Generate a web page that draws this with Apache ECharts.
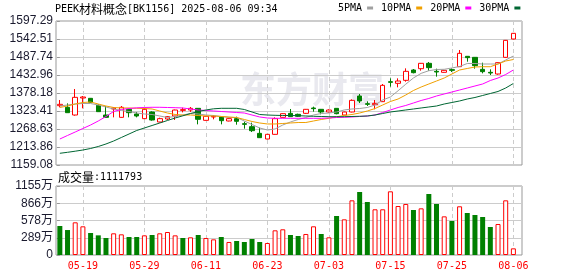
<!DOCTYPE html>
<html><head><meta charset="utf-8">
<script src="https://cdn.jsdelivr.net/npm/echarts@6/dist/echarts.min.js"></script>
<style>html,body{margin:0;padding:0;background:#fff}#c{width:578px;height:276px}</style>
</head><body><div id="c"></div>
<script>
// ---------- data ----------
const dates = ['05-14','05-15','05-16','05-19','05-20','05-21','05-22','05-23','05-26','05-27',
  '05-28','05-29','05-30','06-03','06-04','06-05','06-06','06-09','06-10','06-11',
  '06-12','06-13','06-16','06-17','06-18','06-19','06-20','06-23','06-24','06-25',
  '06-26','06-27','06-30','07-01','07-02','07-03','07-04','07-07','07-08','07-09',
  '07-10','07-11','07-14','07-15','07-16','07-17','07-18','07-21','07-22','07-23',
  '07-24','07-25','07-28','07-29','07-30','07-31','08-01','08-04','08-05','08-06'];
const opens = [1339.6,1334.6,1311.2,1363.0,1362.0,1340.6,1311.2,1329.5,1304.1,1328.5,
  1314.3,1300.1,1320.4,1290.0,1299.1,1308.2,1325.4,1326.4,1331.5,1295.0,
  1305.1,1305.1,1293.0,1300.1,1284.9,1275.7,1255.4,1238.2,1252.4,1304.1,
  1316.3,1313.3,1316.3,1332.5,1328.5,1320.4,1331.5,1311.2,1320.4,1369.0,
  1345.7,1342.7,1351.8,1412.7,1407.6,1416.7,1448.2,1452.2,1468.5,1444.1,
  1441.1,1449.2,1458.3,1489.8,1486.7,1450.2,1441.1,1436.0,1486.7,1542.5];
const closes = [1343.7,1318.3,1365.0,1366.0,1349.8,1321.4,1304.1,1332.5,1334.6,1318.3,
  1308.2,1328.5,1296.0,1300.1,1306.2,1326.4,1327.5,1331.5,1298.1,1307.2,
  1307.2,1294.0,1300.1,1292.0,1282.8,1263.5,1242.2,1252.4,1300.1,1315.3,
  1306.2,1307.2,1328.5,1330.5,1320.4,1326.4,1315.3,1320.4,1355.8,1353.8,
  1343.7,1346.7,1401.5,1410.6,1414.7,1444.1,1440.0,1468.5,1455.3,1442.1,
  1447.2,1447.2,1498.9,1485.7,1461.4,1443.1,1439.0,1470.5,1538.4,1559.8];
const lows = [1334.6,1318.3,1309.2,1331.5,1348.8,1320.4,1304.1,1304.1,1303.1,1304.1,
  1304.1,1299.1,1294.0,1289.0,1296.0,1296.0,1319.3,1320.4,1282.8,1294.0,
  1298.1,1282.8,1292.0,1281.8,1269.6,1259.5,1241.2,1237.2,1251.4,1303.1,
  1305.1,1305.1,1314.3,1321.4,1313.3,1318.3,1313.3,1310.2,1319.3,1347.7,
  1338.6,1328.5,1350.8,1397.5,1395.4,1412.7,1438.0,1446.1,1446.1,1427.9,
  1440.0,1442.1,1457.3,1473.5,1452.2,1438.0,1433.0,1434.0,1485.7,1541.5];
const highs = [1356.9,1346.7,1390.3,1369.0,1363.0,1343.7,1338.6,1334.6,1338.6,1330.5,
  1320.4,1332.5,1322.4,1303.1,1308.2,1327.5,1333.5,1335.6,1332.5,1308.2,
  1311.2,1306.2,1301.1,1306.2,1291.0,1287.9,1272.7,1253.4,1304.1,1316.3,
  1329.5,1315.3,1329.5,1336.6,1329.5,1328.5,1332.5,1321.4,1358.9,1375.1,
  1352.8,1356.9,1405.6,1422.8,1422.8,1453.2,1451.2,1469.5,1472.5,1452.2,
  1448.2,1453.2,1509.0,1490.8,1487.7,1470.5,1450.2,1471.5,1539.5,1560.8];
// volume in 万
const volumes = [485,418,547,480,368,329,285,363,346,301,
  301,329,335,363,385,329,285,296,335,285,
  262,301,218,234,218,268,218,201,413,430,
  335,318,352,480,352,296,653,597,915,1055,
  887,765,765,1066,820,854,753,781,1021,854,
  647,569,815,703,670,636,469,519,915,111.18];
// 1 = red hollow bar, 0 = green filled bar
const volUp = [0,0,1,1,0,0,0,1,1,0,
  0,1,0,1,1,1,0,1,0,1,
  1,0,1,0,0,0,0,1,1,1,
  0,0,1,1,0,1,0,1,1,0,
  0,1,1,1,1,1,0,1,0,0,
  1,0,1,0,0,0,0,1,1,1];
const ma5 = [1338.6,1341.7,1344.7,1346.2,1346.2,1341.7,1335.6,1329.5,1324.9,1321.9,
  1317.3,1314.3,1312.8,1308.2,1303.6,1306.7,1311.2,1315.8,1314.3,1311.2,
  1309.7,1306.7,1303.6,1303.6,1293.0,1282.3,1271.7,1265.6,1268.6,1280.8,
  1290.0,1297.5,1303.6,1311.2,1315.8,1317.3,1320.4,1326.5,1329.5,1331.0,
  1334.1,1341.7,1356.9,1366.0,1385.0,1405.0,1424.0,1438.0,1446.0,1449.7,
  1450.3,1454.3,1458.8,1468.0,1468.0,1466.4,1466.4,1466.4,1478.6,1490.8];
const ma10 = [1334.1,1338.6,1344.7,1349.3,1350.8,1344.7,1338.6,1334.1,1332.6,1332.6,
  1331.6,1331.0,1329.5,1323.4,1317.3,1312.8,1311.2,1311.2,1309.7,1308.2,
  1308.2,1306.7,1305.2,1303.6,1297.5,1291.5,1286.9,1283.9,1283.9,1285.4,
  1286.9,1288.4,1288.4,1293.0,1297.5,1301.2,1306.1,1309.7,1312.8,1317.3,
  1323.4,1331.0,1341.7,1352.3,1359.9,1372.1,1385.8,1396.4,1405.6,1414.7,
  1423.8,1436.0,1448.2,1452.8,1457.3,1458.2,1458.2,1466.4,1475.6,1480.1];
const ma20 = [1238.2,1248.9,1259.5,1270.2,1280.8,1293.0,1306.7,1321.9,1328.0,1331.0,
  1333.1,1334.1,1334.7,1334.7,1334.1,1333.5,1332.6,1329.5,1326.5,1324.9,
  1323.4,1321.9,1320.4,1318.8,1317.3,1311.2,1305.2,1302.1,1301.2,1301.2,
  1301.2,1301.2,1301.2,1301.2,1301.2,1302.1,1303.6,1304.2,1305.2,1306.7,
  1308.2,1311.2,1318.8,1326.5,1334.1,1340.2,1347.8,1355.4,1361.5,1369.1,
  1375.2,1381.2,1387.3,1393.4,1399.5,1405.6,1416.2,1423.8,1434.5,1448.2];
const ma30 = [1194.7,1197.7,1201.1,1204.7,1209.3,1215.4,1223.0,1232.1,1242.8,1253.4,
  1264.1,1271.7,1279.3,1286.9,1294.5,1302.1,1308.8,1315.8,1321.9,1326.5,
  1330.1,1331.6,1331.6,1331.6,1328.0,1320.4,1312.8,1311.2,1310.3,1309.7,
  1309.7,1309.1,1308.2,1307.3,1306.7,1306.1,1306.1,1306.1,1306.7,1307.3,
  1308.2,1311.2,1315.8,1320.4,1323.4,1326.5,1329.5,1332.6,1335.6,1338.6,
  1344.7,1349.3,1353.9,1359.9,1364.5,1370.6,1376.7,1382.8,1393.4,1407.1];
const xTickLabels = ['05-19','05-29','06-11','06-23','07-03','07-15','07-25','08-06'];
const yTickLabels = ['1159.08','1213.86','1268.63','1323.41','1378.18','1432.96','1487.74','1542.51','1597.29'];
const volTickLabels = ['0','289万','578万','866万','1155万'];
const titleText = 'PEEK材料概念[BK1156] 2025-08-06 09:34';
const volTitle = '成交量:1111793';
const maNames = ['5PMA','10PMA','20PMA','30PMA'];
const maColors = ['#a0a0a0','#f0a000','#ff00ff','#006633'];

// ---------- chart ----------
const Y_MIN = parseFloat(yTickLabels[0]);
const Y_MAX = parseFloat(yTickLabels[yTickLabels.length-1]);
const Y_INT = (Y_MAX - Y_MIN) / (yTickLabels.length - 1);
const V_MAX = parseFloat(volTickLabels[volTickLabels.length-1]);
const V_INT = V_MAX / (volTickLabels.length - 1);
const X_MIN = -0.5, X_MAX = 60.12;
const tickIdx = xTickLabels.map(l => dates.indexOf(l));
const mono = 'DejaVu Sans Mono';
const cjk = 'Noto Sans CJK SC';
const axisFont = 'Liberation Sans';

const candleData = dates.map((d, i) => [i, opens[i], closes[i], lows[i], highs[i]]);
const toXY = arr => arr.map((v, i) => [i, v]);
const volData = volumes.map((v, i) => ({
  value: [i, v],
  itemStyle: volUp[i]
    ? {color: '#ffffff', borderColor: '#ff0000', borderWidth: 1}
    : {color: '#008000', borderColor: '#008000', borderWidth: 0}
}));

function makeTitle(txt) {
  return txt.replace(/([\u4e00-\u9fff]+)/g, '{c|$1}');
}

const xCommon = {
  type: 'value', min: X_MIN, max: X_MAX,
  axisLine: {show: false},
  axisTick: {show: false, customValues: tickIdx},
  splitLine: {show: true, lineStyle: {color: '#cccccc', type: [4, 3], width: 1}}
};

const option = {
  animation: false,
  backgroundColor: '#ffffff',
  title: [
    {text: makeTitle(titleText), left: 55, top: 3, padding: 0,
     textStyle: {fontSize: 10, fontFamily: mono, fontWeight: 'normal', color: '#000',
       rich: {c: {fontSize: 12, fontFamily: cjk, color: '#000'}}}},
    {text: makeTitle(volTitle), left: 58, top: 171, padding: 0,
     textStyle: {fontSize: 10, fontFamily: mono, fontWeight: 'normal', color: '#000',
       rich: {c: {fontSize: 12, fontFamily: cjk, color: '#000'}}}}
  ],
  legend: {
    data: maNames, left: 338, top: 3, padding: 0,
    itemWidth: 6, itemHeight: 3, itemGap: 8, align: 'right', icon: 'rect',
    textStyle: {fontSize: 10, fontFamily: mono, color: '#000'},
    selectedMode: false
  },
  graphic: [{
    type: 'text', left: 240, top: 71, z: -10, silent: true,
    style: {text: '东方财富', fontSize: 36, fontWeight: 'bold', fontFamily: cjk, fill: '#e9e9ef'}
  }],
  grid: [
    {left: 56, top: 21, width: 466, height: 144, show: true, borderColor: '#999', borderWidth: 1},
    {left: 56, top: 186, width: 466, height: 69, show: true, borderColor: '#999', borderWidth: 1}
  ],
  xAxis: [
    Object.assign({gridIndex: 0, axisLabel: {show: false}}, xCommon),
    Object.assign({gridIndex: 1, axisLabel: {show: true, customValues: tickIdx, margin: 6,
      formatter: v => dates[Math.round(v)] || '', color: '#ff0000', fontSize: 10, fontFamily: mono}}, xCommon)
  ],
  yAxis: [
    {type: 'value', gridIndex: 0, min: Y_MIN, max: Y_MAX, interval: Y_INT, startValue: Y_MIN,
     axisLine: {show: false},
     axisTick: {show: true, length: 3, lineStyle: {color: '#999'}},
     axisLabel: {margin: 3, fontSize: 12, fontFamily: axisFont, color: '#1a1a2e',
       formatter: v => yTickLabels[Math.round((v - Y_MIN) / Y_INT)] || ''},
     splitLine: {lineStyle: {color: '#cccccc', width: 1}}},
    {type: 'value', gridIndex: 1, min: 0, max: V_MAX, interval: V_INT,
     axisLine: {show: false},
     axisTick: {show: true, length: 3, lineStyle: {color: '#999'}},
     axisLabel: {margin: 3, fontSize: 12, fontFamily: axisFont + ', ' + cjk, color: '#1a1a2e',
       formatter: v => volTickLabels[Math.round(v / V_INT)] || ''},
     splitLine: {lineStyle: {color: '#cccccc', width: 1}}}
  ],
  series: [
    {type: 'candlestick', xAxisIndex: 0, yAxisIndex: 0, barWidth: 5, data: candleData,
     itemStyle: {color: '#ffffff', color0: '#008000', borderColor: '#ff0000', borderColor0: '#008000', borderWidth: 1}},
    ...maNames.map((n, k) => ({
      name: n, type: 'line', xAxisIndex: 0, yAxisIndex: 0, symbol: 'none',
      data: toXY([ma5, ma10, ma20, ma30][k]),
      color: maColors[k],
      lineStyle: {color: maColors[k], width: 1},
      itemStyle: {color: maColors[k]}
    })),
    {type: 'bar', xAxisIndex: 1, yAxisIndex: 1, barWidth: 5, data: volData}
  ]
};
const chart = echarts.init(document.getElementById('c'), null, {renderer: 'canvas'});
chart.setOption(option);
</script>
</body></html>
